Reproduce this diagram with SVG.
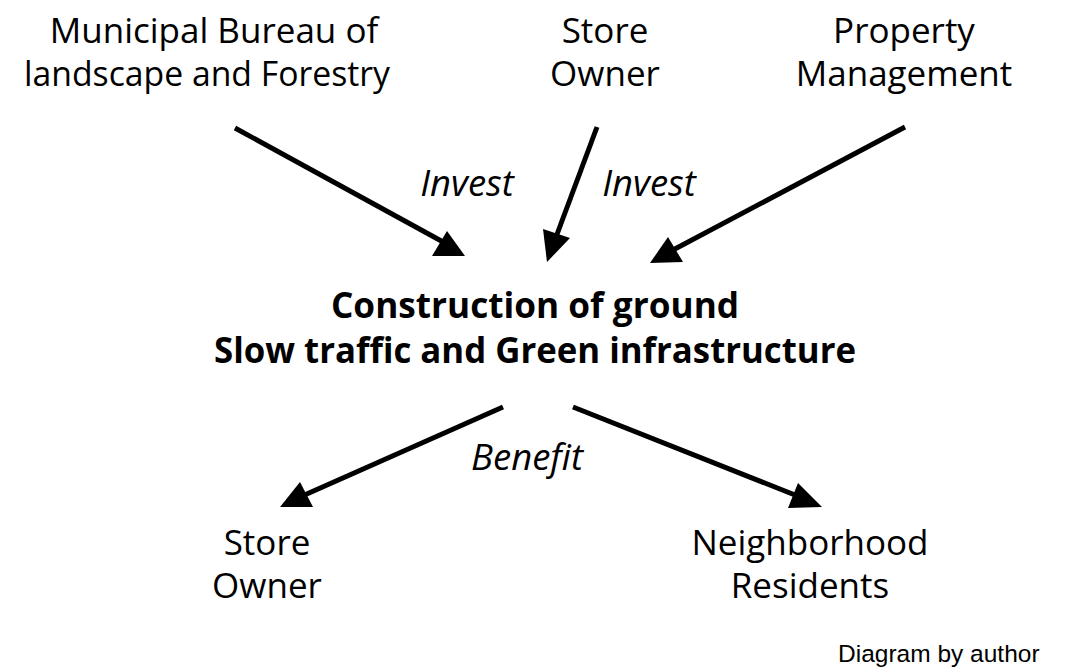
<svg xmlns="http://www.w3.org/2000/svg" width="1065" height="671" viewBox="0 0 1065 671">
<style>
.t{font-family:"Open Sans","Noto Sans",sans-serif;font-size:35px;fill:#000;text-anchor:middle}
.i{font-family:"Open Sans","Noto Sans",sans-serif;font-size:36.5px;font-style:italic;fill:#000;text-anchor:middle}
.b{font-family:"Open Sans","Noto Sans",sans-serif;font-size:35.2px;font-weight:bold;fill:#000;text-anchor:middle}
.c{font-family:"Liberation Sans",Arial,sans-serif;font-size:24.5px;fill:#000}
.ln{stroke:#000;stroke-width:5;fill:none}
.ah{fill:#000}
</style>
<rect width="1065" height="671" fill="#fff"/>
<g id="bureau"><text class="t" x="214" y="43">Municipal Bureau of</text><text class="t" x="207" y="86" textLength="366" lengthAdjust="spacingAndGlyphs">landscape and Forestry</text></g>
<g id="store-owner-top"><text class="t" x="605" y="43">Store</text><text class="t" x="605" y="86">Owner</text></g>
<g id="property"><text class="t" x="904" y="43">Property</text><text class="t" x="904" y="86">Management</text></g>
<g id="center"><text class="b" x="535" y="318">Construction of ground</text><text class="b" x="535" y="363" textLength="642" lengthAdjust="spacingAndGlyphs">Slow traffic and Green infrastructure</text></g>
<g id="store-owner-bottom"><text class="t" x="267" y="555">Store</text><text class="t" x="267" y="598">Owner</text></g>
<g id="residents"><text class="t" x="810" y="555">Neighborhood</text><text class="t" x="810" y="598">Residents</text></g>
<g id="connectors">
<line class="ln" x1="235" y1="128" x2="445" y2="243"/>
<polygon class="ah" points="447,231 432,256 465,256"/>
<line class="ln" x1="597" y1="127" x2="556" y2="237"/>
<polygon class="ah" points="543,229 570,238 547,262"/>
<line class="ln" x1="905" y1="127" x2="673" y2="250"/>
<polygon class="ah" points="668,237 683,262 650,263"/>
<line class="ln" x1="503" y1="407" x2="300" y2="497"/>
<polygon class="ah" points="300,482 313,507 280,507"/>
<line class="ln" x1="573" y1="407" x2="800" y2="497"/>
<polygon class="ah" points="798,483 822,507 788,508"/>
</g>
<g id="labels">
<text class="i" x="467" y="196">Invest</text>
<text class="i" x="649" y="196">Invest</text>
<text class="i" x="527" y="470">Benefit</text>
<text class="c" x="838" y="662">Diagram by author</text>
</g>
</svg>
